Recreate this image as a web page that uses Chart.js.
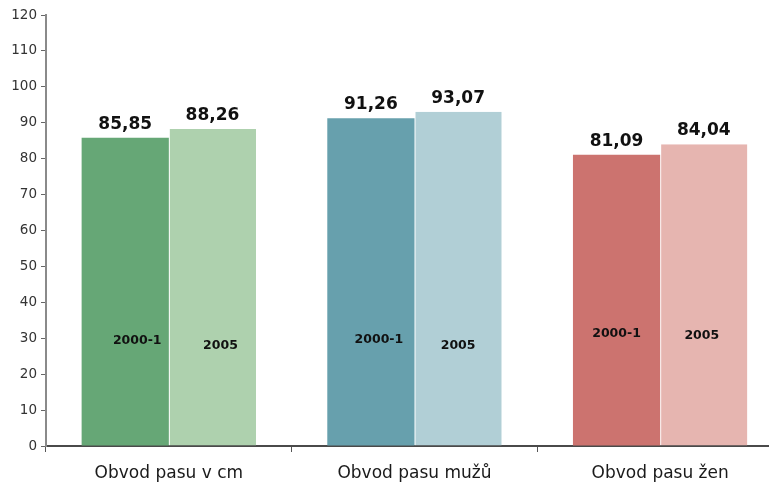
<!DOCTYPE html>
<html>
<head>
<meta charset="utf-8">
<script src="https://cdn.jsdelivr.net/npm/chart.js@4"></script>
<style>
  html, body { margin: 0; padding: 0; background: #fff; overflow: hidden; }
  #wrap { width: 800px; height: 482px; }
</style>
</head>
<body>
<div id="wrap"><canvas id="c" width="800" height="482"></canvas></div>
<script>
// Waist circumference (cm), survey 2000-1 vs 2005
const categories = ['Obvod pasu v cm', 'Obvod pasu mužů', 'Obvod pasu žen'];
const seriesNames = ['2000-1', '2005'];
const values2000 = [85.85, 91.26, 81.09];
const values2005 = [88.26, 93.07, 84.04];
const yTicks = [0, 10, 20, 30, 40, 50, 60, 70, 80, 90, 100, 110, 120];

// colours per bar (each group has its own hue)
const colors2000 = ['#66a776', '#67a0ad', '#cc736f'];
const colors2005 = ['#aed1ae', '#b1cfd6', '#e6b5b0'];

// placement of the series name written inside each bar
const innerLabelStyle = {
  level: [[29.4, 29.6, 31.3], [28.0, 28.0, 30.7]],
  dx: [[12, 8, 0], [8, 0, -2]]
};

const FONT = '"DejaVu Sans", Verdana, sans-serif';
const fmt = v => v.toFixed(2).replace('.', ',');

const barLabels = {
  id: 'barLabels',
  afterDatasetsDraw(chart) {
    const ctx = chart.ctx;
    const yScale = chart.scales.y;
    ctx.save();
    chart.data.datasets.forEach((ds, i) => {
      const meta = chart.getDatasetMeta(i);
      meta.data.forEach((bar, j) => {
        // value above the bar
        ctx.fillStyle = '#111';
        ctx.font = 'bold 17px ' + FONT;
        ctx.textAlign = 'center';
        ctx.textBaseline = 'alphabetic';
        ctx.fillText(fmt(ds.data[j]), bar.x, bar.y - 9);
        // series name inside the bar
        ctx.font = 'bold 12.5px ' + FONT;
        ctx.textBaseline = 'middle';
        ctx.fillText(ds.label, bar.x + innerLabelStyle.dx[i][j],
          yScale.getPixelForValue(innerLabelStyle.level[i][j]));
      });
    });
    ctx.restore();
  }
};

new Chart(document.getElementById('c'), {
  type: 'bar',
  data: {
    labels: categories,
    datasets: [
      { label: seriesNames[0], data: values2000, backgroundColor: colors2000,
        borderWidth: 0 },
      { label: seriesNames[1], data: values2005, backgroundColor: colors2005,
        borderColor: '#ffffff', borderWidth: { left: 1, right: 0, top: 0, bottom: 0 },
        borderSkipped: false }
    ]
  },
  options: {
    responsive: false,
    animation: false,
    devicePixelRatio: 1,
    layout: { padding: { top: 15, right: 17, left: 0, bottom: 0 } },
    plugins: { legend: { display: false }, tooltip: { enabled: false } },
    datasets: { bar: { categoryPercentage: 0.71, barPercentage: 1.0 } },
    scales: {
      x: {
        grid: { display: true, drawOnChartArea: false, offset: true,
                tickLength: 6, color: '#555', lineWidth: 1 },
        border: { display: true, color: '#4a4a4a', width: 2 },
        ticks: { color: '#1a1a1a', padding: 11,
                 font: { family: FONT, size: 17 } },
        afterFit(scale) { scale.height = 36; }
      },
      y: {
        min: 0, max: 120,
        afterBuildTicks(scale) { scale.ticks = yTicks.map(v => ({ value: v })); },
        grid: { display: true, drawOnChartArea: false, tickLength: 5,
                color: '#666', lineWidth: 1 },
        border: { display: true, color: '#8a8a8a', width: 2 },
        ticks: { color: '#333', padding: 4,
                 font: { family: FONT, size: 13.5 } },
        afterFit(scale) { scale.width = 46; }
      }
    }
  },
  plugins: [barLabels]
});
</script>
</body>
</html>
